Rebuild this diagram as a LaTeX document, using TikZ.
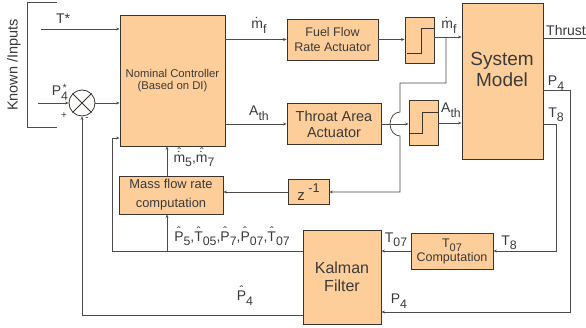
\documentclass[tikz,border=0pt]{standalone}
\usepackage{fontspec}
\setmainfont{Liberation Sans}
\usetikzlibrary{arrows.meta}
\definecolor{boxfill}{HTML}{FDCE99}
\definecolor{boxline}{HTML}{3B342C}
\definecolor{wire}{HTML}{4F4A45}
\definecolor{txt}{HTML}{3A3A3A}
\newcommand{\sbs}[1]{\raisebox{-0.32em}{\scalebox{0.88}{#1}}}
\newcommand{\ovr}[3]{\ooalign{#1\cr\hidewidth\raisebox{#3}{#2}\hidewidth\cr}}
\newcommand{\hatP}{\ovr{P}{\scalebox{0.85}{ˆ}}{0.42em}}
\newcommand{\hatT}{\ovr{T}{\scalebox{0.85}{ˆ}}{0.42em}}
\newcommand{\dotm}{\ovr{m}{˙}{0.05em}}
\newcommand{\hdm}{\ooalign{m\cr\hidewidth\raisebox{0.08em}{˙}\hidewidth\cr\hidewidth\raisebox{0.42em}{\scalebox{0.85}{ˆ}}\hidewidth\cr}}
\newcommand{\Pstar}{P\ooalign{\sbs{4}\cr\hidewidth\raisebox{0.3em}{\scalebox{0.75}{*}}\hidewidth\cr}}
\begin{document}
\begin{tikzpicture}[x=1pt,y=-1pt,
  blk/.style={draw=boxline, fill=boxfill, line width=0.8pt, inner sep=0pt, align=center, text=txt},
  wirestyle/.style={draw=wire, line width=0.8pt},
  arr/.style={wirestyle, -{Stealth[length=3.5pt,width=2.8pt]}},
  steplin/.style={draw=boxline, line width=0.8pt},
  lbl/.style={inner sep=0pt, text=txt, font=\fontsize{14}{16}\selectfont}]
\useasboundingbox (0,0) rectangle (586,328);
% blocks
\node[blk, minimum width=105pt, minimum height=131pt, font=\fontsize{11.3}{12.5}\selectfont] (ctrl) at (172.5,80.5) {Nominal Controller\\(Based on DI)};
\node[blk, minimum width=91pt, minimum height=41pt, font=\fontsize{12.5}{15}\selectfont] (fuel) at (332.5,39.5) {Fuel Flow\\Rate Actuator};
\node[blk, minimum width=94pt, minimum height=41pt, font=\fontsize{14.5}{16}\selectfont] (thr) at (334,124) {Throat Area\\Actuator};
\node[blk, minimum width=29pt, minimum height=46pt] (sat1) at (419.5,40) {};
\node[blk, minimum width=29pt, minimum height=45pt] (sat2) at (423.5,123) {};
\node[blk, minimum width=81pt, minimum height=156pt] (sys) at (502.5,81) {};
\node[inner sep=0pt, align=center, text=txt, font=\fontsize{19}{21}\selectfont] (systxt) at (502,69) {System\\Model};
\node[blk, minimum width=104pt, minimum height=38pt, font=\fontsize{12.9}{19}\selectfont] (mass) at (171,195) {Mass flow rate\\computation};
\node[blk, minimum width=41pt, minimum height=25pt, font=\fontsize{15}{16}\selectfont] (z) at (308.5,192) {z\raisebox{0.5em}{\scalebox{0.85}{ -1}}};
\node[blk, minimum width=78pt, minimum height=94pt, font=\fontsize{16}{18}\selectfont] (kal) at (342,277) {Kalman\\Filter};
\node[blk, minimum width=82pt, minimum height=36pt, font=\fontsize{12.5}{14}\selectfont] (t07) at (452,251) {T\sbs{07}\\Computation};
\node[draw=boxline, fill=white, circle, minimum size=26pt, inner sep=0pt, line width=0.8pt] (sum) at (82,103) {};
\draw[steplin] (sum.north west) -- (sum.south east) (sum.north east) -- (sum.south west);
% saturation steps
\draw[steplin] (407,53) -- (421,53) -- (421,28) -- (434,28);
\draw[steplin] (409,133) -- (422,133) -- (422,112) -- (438,112);
% bracket
\draw[wirestyle] (57,2) -- (27,2) -- (27,127) -- (57,127);
\node[lbl, rotate=90, font=\fontsize{14.5}{16}\selectfont] (known) at (14,65) {Known /Inputs};
% connectors
\coordinate (tin) at (41,29);
\draw[arr] (tin) -- (tin -| ctrl.west);
\coordinate (pin) at (38,103);
\draw[arr] (pin) -- (sum.west);
\draw[arr] (sum.east) -- (sum.east -| ctrl.west);
\draw[arr] (ctrl.east |- fuel.west) -- (fuel.west);
\draw[arr] (fuel.east) -- (fuel.east -| sat1.west);
\draw[arr] ([yshift=3pt]sat1.east) -- ([yshift=3pt]sat1.east -| sys.west);
\draw[arr] (ctrl.east |- thr.west) -- (thr.west);
\draw[arr] (thr.east) -- (thr.east -| sat2.west);
\draw[arr] (sat2.east) -- (sat2.east -| sys.west);
\coordinate (br) at (446,37);
\coordinate (hopa) at (400,112);
\coordinate (zc) at (400,192);
\draw[arr] (br) |- (hopa |- 0,83) -- (hopa) arc[start angle=90, end angle=270, x radius=10pt, y radius=12pt] -- (zc) -- (z.east);
\draw[arr] (z.west) -- (z.west -| mass.east);
\coordinate (mb) at (167,251);
\draw[arr] (mb |- mass.north) -- (mb |- ctrl.south);
\coordinate (cl) at (112,138);
\draw[arr] (kal.west |- t07.west) -| (cl) -- (cl -| ctrl.west);
\draw[arr] (mb) -- (mb |- mass.south);
\draw[arr] ([yshift=-38pt]kal.west) -| (sum.south);
\draw[arr] (t07.west) -- (t07.west -| kal.east);
\draw[arr] ([yshift=-9pt]sys.east) -- ++(27,0) |- ([yshift=-35pt]kal.east);
\draw[arr] ([yshift=-43pt]sys.east) -- ++(13,0) |- (t07.east);
\draw[wirestyle] ([yshift=43pt]sys.east) -- ++(50,0);
% labels
\node[lbl] (lT) at (63,19) {T*};
\node[lbl] (lP) at (60,91) {\Pstar};
\node[lbl, font=\fontsize{10}{10}\selectfont] (lplus) at (64,116) {+};
\node[lbl, font=\fontsize{10}{10}\selectfont] (lminus) at (87,119) {-};
\node[lbl] (lmf1) at (259,27) {\dotm\sbs{f}};
\node[lbl] (lath1) at (259,113) {A\sbs{th}};
\node[lbl] (lmf2) at (449,27) {\dotm\sbs{f}};
\node[lbl] (lath2) at (451,110) {A\sbs{th}};
\node[lbl, anchor=west] (lthr) at (546,31) {Thrust};
\node[lbl] (lp4a) at (556,83) {P\sbs{4}};
\node[lbl] (lt8a) at (556,115) {T\sbs{8}};
\node[lbl] (lm57) at (194,161) {\hdm\sbs{5},\hdm\sbs{7}};
\node[lbl] (lpt) at (232,239) {\hatP\sbs{5},\hatT\sbs{05},\hatP\sbs{7},\hatP\sbs{07},\hatT\sbs{07}};
\node[lbl] (lt07) at (396,240) {T\sbs{07}};
\node[lbl] (lt8b) at (509,243) {T\sbs{8}};
\node[lbl] (lp4b) at (399,301) {P\sbs{4}};
\node[lbl] (lp4h) at (245,298) {\hatP\sbs{4}};
\end{tikzpicture}
\end{document}
